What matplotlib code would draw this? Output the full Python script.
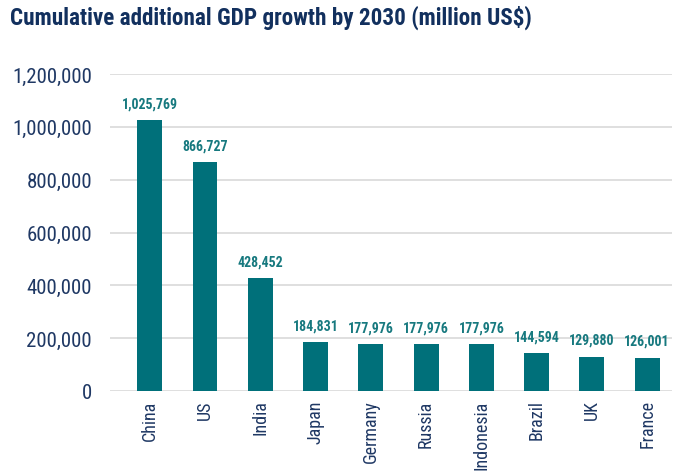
import matplotlib
matplotlib.use("Agg")
import matplotlib.pyplot as plt
from matplotlib import font_manager
from matplotlib.ticker import FuncFormatter

countries = ["China", "US", "India", "Japan", "Germany", "Russia",
             "Indonesia", "Brazil", "UK", "France"]
gdp_growth = [1025769, 866727, 428452, 184831, 177976, 177976,
              177976, 144594, 129880, 126001]
y_ticks = [0, 200000, 400000, 600000, 800000, 1000000, 1200000]

names = {f.name for f in font_manager.fontManager.ttflist}
family = "Roboto"
for cand in ["Roboto Condensed", "Liberation Sans Narrow", "Arial Narrow"]:
    if cand in names:
        family = cand
        break
plt.rcParams["font.family"] = [family, "DejaVu Sans"]

bar_color = "#00707a"
label_color = "#17797f"
text_color = "#1f3864"

fig = plt.figure(figsize=(6.81, 4.77), dpi=100)
ax = fig.add_axes([110 / 681, 1 - 392 / 477, (672 - 110) / 681, (392 - 75) / 477])

x = range(len(countries))
ax.bar(x, gdp_growth, width=0.45, color=bar_color, zorder=3)
for xi, v in zip(x, gdp_growth):
    ax.annotate(f"{v:,}", (xi, v), xytext=(0, 7), textcoords="offset points",
                ha="center", va="bottom", fontsize=10, fontweight="bold",
                color=label_color)

ax.set_ylim(0, 1200000)
ax.set_xlim(-0.72, 9.45)
ax.set_yticks(y_ticks)
ax.yaxis.set_major_formatter(FuncFormatter(lambda v, p: f"{int(v):,}"))
ax.set_xticks(list(x))
ax.set_xticklabels(countries, rotation=90)
ax.tick_params(axis="y", length=0, pad=13, labelsize=15, labelcolor=text_color)
ax.tick_params(axis="x", length=0, pad=6, labelsize=13, labelcolor=text_color)
ax.grid(axis="y", color="#d9d9d9", linewidth=1.2, zorder=0)
for s in ax.spines.values():
    s.set_visible(False)

fig.text(10 / 681, 1 - 18 / 477, "Cumulative additional GDP growth by 2030 (million US$)",
         fontsize=16.7, fontweight="bold", color="#12305e", va="center", ha="left")

fig.savefig("out.png", dpi=100)
